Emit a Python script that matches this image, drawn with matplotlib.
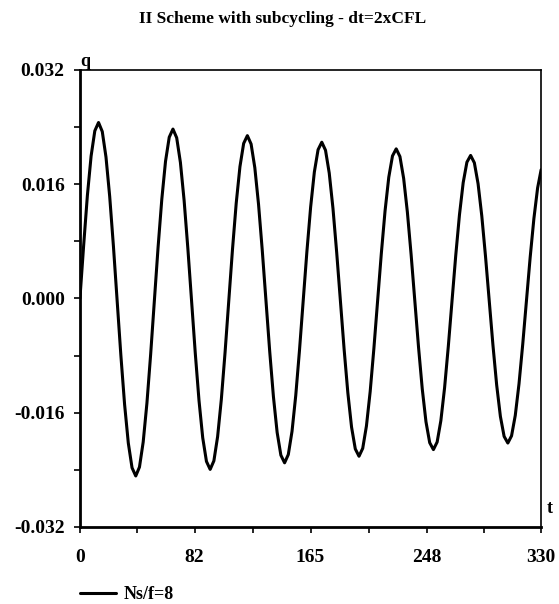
import numpy as np
import matplotlib as mpl
mpl.use('Agg')
from matplotlib import pyplot as plt
import matplotlib.ticker as ticker

mpl.rcParams['font.family'] = 'Liberation Serif'
mpl.rcParams['font.weight'] = 'bold'

# time samples
t = [0.00, 2.66, 5.33, 7.99, 10.65, 13.31, 15.98, 18.64, 21.30, 23.96,
     26.63, 29.29, 31.95, 34.61, 37.28, 39.94, 42.60, 45.26, 47.93, 50.59,
     53.25, 55.91, 58.58, 61.24, 63.90, 66.56, 69.23, 71.89, 74.55, 77.21,
     79.88, 82.54, 85.20, 87.86, 90.53, 93.19, 95.85, 98.51, 101.18, 103.84,
     106.50, 109.16, 111.83, 114.49, 117.15, 119.81, 122.48, 125.14, 127.80, 130.46,
     133.13, 135.79, 138.45, 141.11, 143.78, 146.44, 149.10, 151.76, 154.43, 157.09,
     159.75, 162.41, 165.08, 167.74, 170.40, 173.06, 175.73, 178.39, 181.05, 183.71,
     186.38, 189.04, 191.70, 194.36, 197.03, 199.69, 202.35, 205.01, 207.68, 210.34,
     213.00, 215.66, 218.33, 220.99, 223.65, 226.31, 228.98, 231.64, 234.30, 236.96,
     239.63, 242.29, 244.95, 247.61, 250.28, 252.94, 255.60, 258.26, 260.93, 263.59,
     266.25, 268.91, 271.58, 274.24, 276.90, 279.56, 282.23, 284.89, 287.55, 290.21,
     292.88, 295.54, 298.20, 300.86, 303.53, 306.19, 308.85, 311.51, 314.18, 316.84,
     319.50, 322.16, 324.83, 327.49, 330.00]

# q in units of 1e-4
q_e4 = [0.0, 74.2, 144.1, 199.2, 234.5, 246.2, 233.5, 197.8, 142.5, 73.1,
        -3.5, -79.8, -148.4, -202.5, -237.1, -248.6, -236.1, -201.1, -146.7, -78.6,
        -3.5, 71.4, 138.7, 191.8, 225.6, 237.0, 224.8, 190.3, 137.0, 70.2,
        -3.5, -76.9, -143.0, -195.1, -228.2, -239.4, -227.4, -193.6, -141.3, -75.8,
        -3.5, 68.5, 133.3, 184.3, 216.9, 227.8, 216.0, 182.9, 131.6, 67.4,
        -3.5, -74.1, -137.5, -187.6, -219.5, -230.2, -218.6, -186.1, -135.9, -73.0,
        -3.5, 65.7, 127.8, 176.9, 208.1, 218.6, 207.3, 175.4, 126.2, 64.5,
        -3.5, -71.3, -132.1, -180.2, -210.7, -221.0, -209.9, -178.6, -130.5, -70.1,
        -3.5, 62.8, 122.4, 169.5, 199.4, 209.3, 198.5, 167.9, 120.8, 61.7,
        -3.5, -68.4, -126.7, -172.7, -202.0, -211.7, -201.1, -171.2, -125.1, -67.3,
        -3.5, 60.0, 117.0, 162.0, 190.6, 200.1, 189.8, 160.5, 115.4, 58.9,
        -3.5, -65.6, -121.3, -165.2, -193.2, -202.5, -192.4, -163.8, -119.6, -64.4,
        -3.5, 57.2, 111.6, 154.5, 180.0]

xticks = [0, 82, 165, 248, 330]
yticks = [-0.032, -0.016, 0.000, 0.016, 0.032]
series_label = 'Ns/f=8'
title = 'II Scheme with subcycling - dt=2xCFL'

q = np.array(q_e4) * 1e-4

fig = plt.figure(figsize=(5.59, 6.04), dpi=100)
ax = fig.add_axes([0.143, 0.1275, 0.825, 0.757])

ax.plot(t, q, color='black', lw=2.2, label=series_label,
        solid_joinstyle='round', solid_capstyle='round')

ax.set_xlim(0, 330)
ax.set_ylim(-0.032, 0.032)
ax.set_xticks(xticks)
ax.set_yticks(yticks)
ax.set_yticklabels(['%.3f' % v for v in yticks])
ax.xaxis.set_minor_locator(ticker.FixedLocator([41, 123.5, 206.5, 289]))
ax.yaxis.set_minor_locator(ticker.MultipleLocator(0.008))
ax.tick_params(which='both', direction='out', length=4, width=1.2, labelsize=14)
ax.tick_params(axis='y', pad=7)
ax.tick_params(axis='x', pad=12)

for s in ['left', 'bottom']:
    ax.spines[s].set_linewidth(2.0)
for s in ['top', 'right']:
    ax.spines[s].set_linewidth(1.2)

fig.text(0.505, 0.968, title, ha='center', va='center', fontsize=12.5)
ax.text(0.012, 1.0, 'q', transform=ax.transAxes, ha='center', va='bottom', fontsize=13)
ax.text(1.018, 0.04, 't', transform=ax.transAxes, ha='center', va='center', fontsize=13)

ax.legend(loc='center left', bbox_to_anchor=(0.0, -0.148), frameon=False,
          borderaxespad=0, borderpad=0, handlelength=2.0, handletextpad=0.4,
          prop={'size': 13, 'weight': 'bold'})

plt.savefig('out.png', dpi=100)
